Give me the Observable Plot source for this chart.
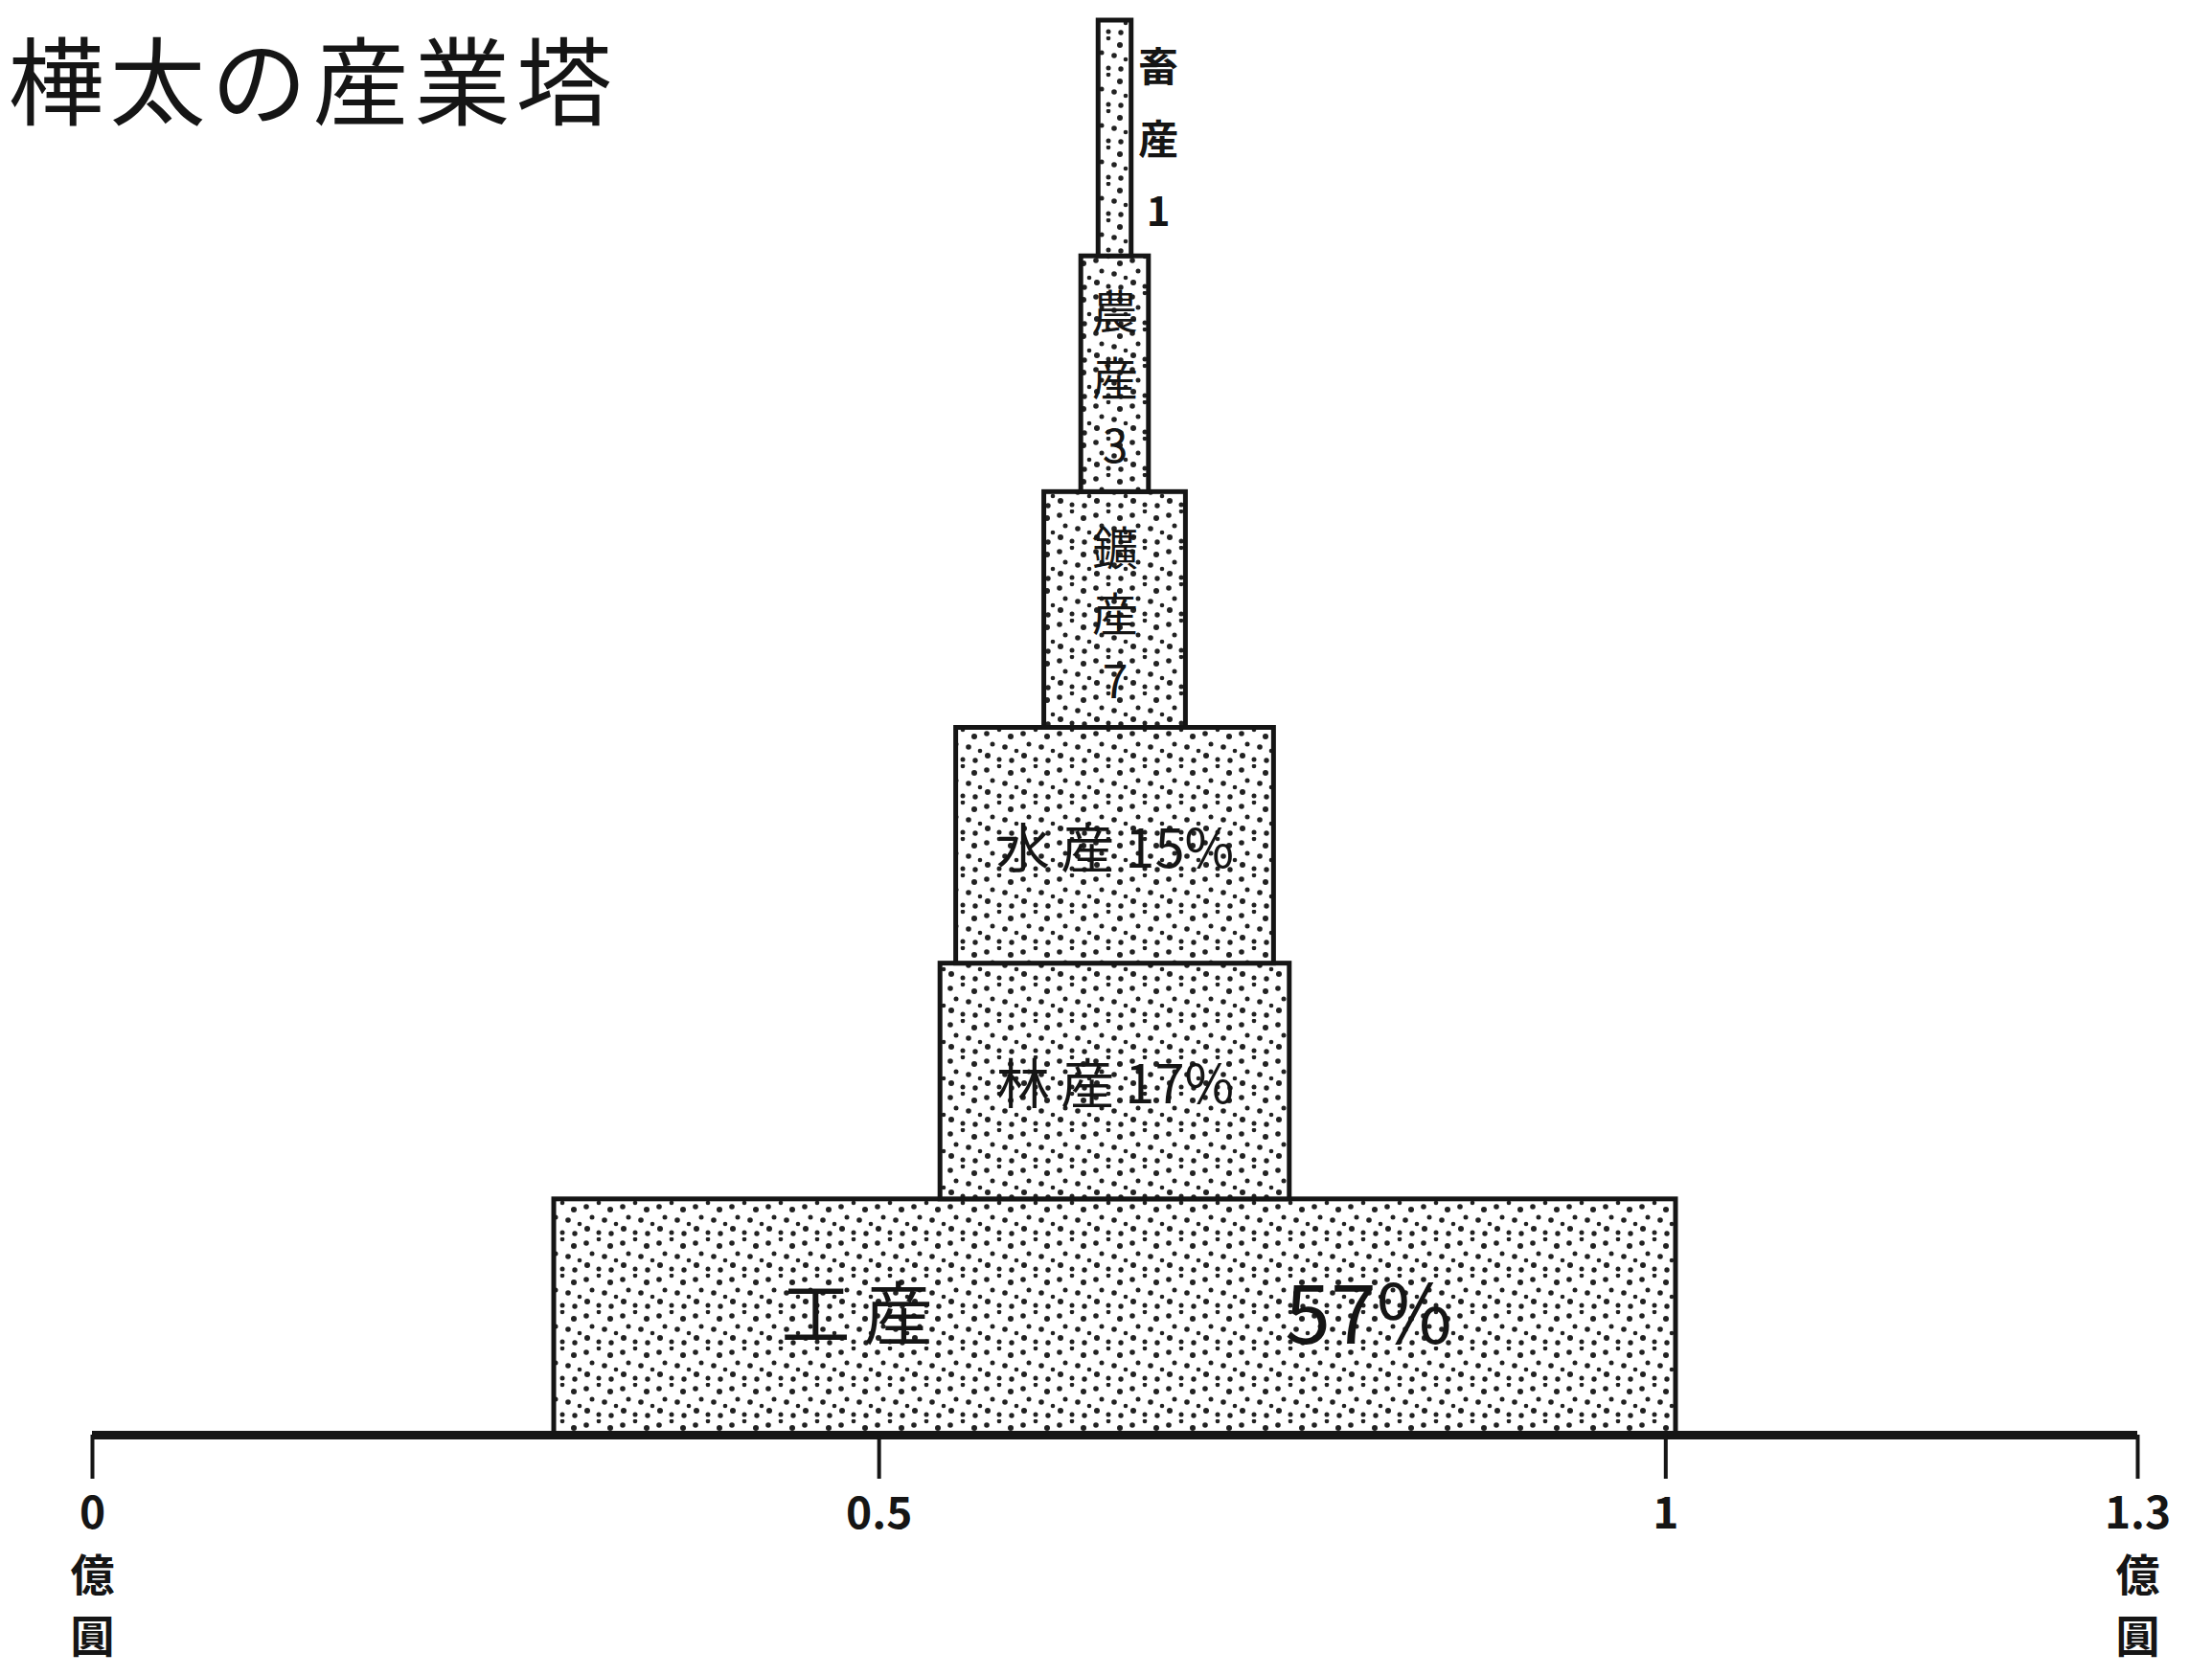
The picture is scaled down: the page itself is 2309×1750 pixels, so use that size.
<!DOCTYPE html>
<html><head><meta charset="utf-8">
<script src="https://cdn.jsdelivr.net/npm/d3@7"></script>
<script src="https://cdn.jsdelivr.net/npm/@observablehq/plot@0.6"></script>
<style>
html,body{margin:0;padding:0;background:#fff;}
svg{display:block}
</style></head><body><div id="chart"></div>
<script>
// ---- data ----
const industries = ["工産", "林産", "水産", "鑛産", "農産", "畜産"];
const valuesOku = [0.713, 0.222, 0.202, 0.090, 0.043, 0.021]; // 億圓
const percents = [57, 17, 15, 7, 3, 1];
const axisTicks = [0, 0.5, 1, 1.3];
const axisTickLabels = ["0\n億\n圓", "0.5", "1", "1.3\n億\n圓"];
const title = "樺太の産業塔";

const axisMax = 1.3;
const center = axisMax / 2;
const tiers = industries.map((name, i) => ({name, value: valuesOku[i], pct: percents[i], level: i}));
const ink = "#151515";
const font = "'Noto Sans CJK JP', 'Noto Sans CJK SC', sans-serif";

const plot = Plot.plot({
  width: 2309,
  height: 1750,
  marginLeft: 96,
  marginRight: 78,
  marginTop: 21,
  marginBottom: 252,
  style: {fontFamily: font, color: ink, background: "#fff"},
  x: {domain: [0, axisMax], axis: null},
  y: {domain: [0, tiers.length], axis: null},
  marks: [
    Plot.rect(tiers, {
      x1: d => center - d.value / 2,
      x2: d => center + d.value / 2,
      y1: "level",
      y2: d => d.level + 1,
      fill: "url(#stipple)",
      stroke: ink,
      strokeWidth: 5
    }),
    Plot.ruleY([0], {stroke: ink, strokeWidth: 9}),
    Plot.axisX({
      ticks: axisTicks,
      tickSize: 46,
      tickPadding: 6,
      strokeWidth: 4,
      stroke: ink,
      fill: ink,
      fontSize: 46,
      fontWeight: "bold",
      lineHeight: 1.4,
      tickFormat: d => axisTickLabels[axisTicks.indexOf(d)]
    }),
    // bottom tier: name and percent separately
    Plot.text(tiers.filter(d => d.level === 0), {
      x: d => center - d.value * 0.23, y: d => d.level + 0.5,
      text: d => [...d.name].join("\u2009"), fontSize: 72, fill: ink
    }),
    Plot.text(tiers.filter(d => d.level === 0), {
      x: d => center + d.value * 0.226, y: d => d.level + 0.5,
      text: d => d.pct + "%", fontSize: 86, fill: ink
    }),
    // middle tiers: horizontal
    Plot.text(tiers.filter(d => d.level === 1 || d.level === 2), {
      x: center, y: d => d.level + 0.48,
      text: d => `${[...d.name].join("\u2009")}\u2009${d.pct}%`, fontSize: 56, fill: ink
    }),
    // narrow tiers: vertical inside
    Plot.text(tiers.filter(d => d.level === 3 || d.level === 4), {
      x: center, y: d => d.level + 0.5,
      text: d => [...d.name, String(d.pct)].join("\n"),
      fontSize: 48, lineHeight: 1.45, fill: ink
    }),
    // narrowest tier: vertical label outside on the right
    Plot.text(tiers.filter(d => d.level === 5), {
      x: d => center + d.value / 2, y: d => d.level + 0.5,
      dx: 28, dy: -8,
      text: d => [...d.name, String(d.pct)].join("\n"),
      fontSize: 42, fontWeight: "bold", lineHeight: 1.8, fill: ink
    }),
    // title
    Plot.text([title], {
      frameAnchor: "top-left", dx: -88, dy: 30,
      textAnchor: "start", lineAnchor: "top",
      text: d => d, fontSize: 100, fill: ink
    })
  ]
});

// stipple pattern
const svg = d3.select(plot.tagName === "svg" ? plot : plot.querySelector("svg"));
const defs = svg.insert("defs", ":first-child");
const pat = defs.append("pattern")
  .attr("id", "stipple").attr("patternUnits", "userSpaceOnUse")
  .attr("width", 38).attr("height", 38);
pat.append("rect").attr("width", 38).attr("height", 38).attr("fill", "#fff");
[[4,6,2.8],[17,2,2.3],[29,9,3.0],[10,17,2.5],[23,20,2.8],[35,24,2.3],[5,29,3.0],[17,33,2.5],[30,34,2.7]]
  .forEach(([cx, cy, r]) => pat.append("circle").attr("cx", cx).attr("cy", cy).attr("r", r).attr("fill", "#222"));

svg.selectAll("text").filter(function() { return this.textContent === title; })
  .attr("letter-spacing", "6px");

document.getElementById("chart").appendChild(plot);
</script></body></html>
